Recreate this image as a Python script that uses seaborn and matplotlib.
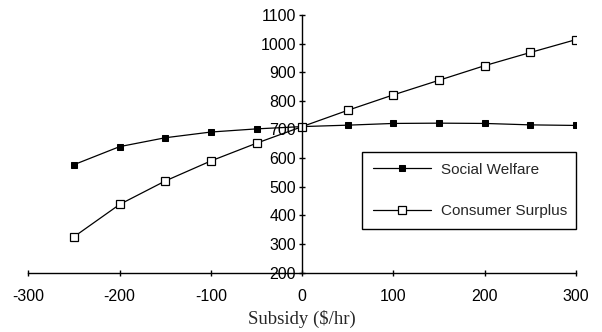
import matplotlib
matplotlib.use('Agg')
import matplotlib.pyplot as plt
import seaborn as sns
import pandas as pd

# values
subsidy = [-250, -200, -150, -100, -50, 0, 50, 100, 150, 200, 250, 300]
social_welfare = [577, 640, 671, 691, 702, 710, 715, 721, 722, 721, 716, 714]
consumer_surplus = [325, 438, 520, 590, 652, 710, 767, 821, 872, 923, 969, 1014]
x_ticks = [-300, -200, -100, 0, 100, 200, 300]
y_ticks = [200, 300, 400, 500, 600, 700, 800, 900, 1000, 1100]

data = pd.DataFrame({'Subsidy': subsidy,
                     'Social Welfare': social_welfare,
                     'Consumer Surplus': consumer_surplus})

sns.set_style('ticks')
plt.rcParams['font.family'] = ['Liberation Sans', 'DejaVu Sans']
plt.rcParams['axes.unicode_minus'] = False

fig = plt.figure(figsize=(6.02, 3.32), dpi=100)
ax = fig.add_axes([0.0472, 0.1792, 0.9096, 0.7756])

sns.lineplot(data=data, x='Subsidy', y='Social Welfare', ax=ax, color='black',
             linewidth=0.9, marker='s', markersize=5, markerfacecolor='black',
             markeredgecolor='black', label='Social Welfare')
sns.lineplot(data=data, x='Subsidy', y='Consumer Surplus', ax=ax, color='black',
             linewidth=0.9, marker='s', markersize=6, markerfacecolor='white',
             markeredgecolor='black', markeredgewidth=0.9, label='Consumer Surplus')

ax.set_xlim(-300, 300)
ax.set_ylim(200, 1100)
ax.set_xticks(x_ticks)
ax.set_yticks(y_ticks)

ax.spines['left'].set_position(('data', 0))
ax.spines['top'].set_visible(False)
ax.spines['right'].set_visible(False)
for s in ['left', 'bottom']:
    ax.spines[s].set_color('black')
    ax.spines[s].set_linewidth(1)
ax.tick_params(axis='both', direction='inout', length=4, width=1, color='black',
               labelsize=11.5, labelcolor='black')
ax.tick_params(axis='x', pad=10)
ax.tick_params(axis='y', pad=2.5)

ax.set_ylabel('')
ax.set_xlabel('Subsidy ($/hr)', family='Liberation Serif', fontsize=13.5, labelpad=4)

leg = ax.legend(loc='upper left', bbox_to_anchor=(0.609, 0.468, 0.391, 0.0),
                mode='expand', fancybox=False, framealpha=1, edgecolor='black',
                fontsize=11, handlelength=3.8, labelspacing=1.8, borderpad=0.7,
                handletextpad=0.7, borderaxespad=0)
leg.get_frame().set_linewidth(1)

fig.savefig('out.png', dpi=100)
